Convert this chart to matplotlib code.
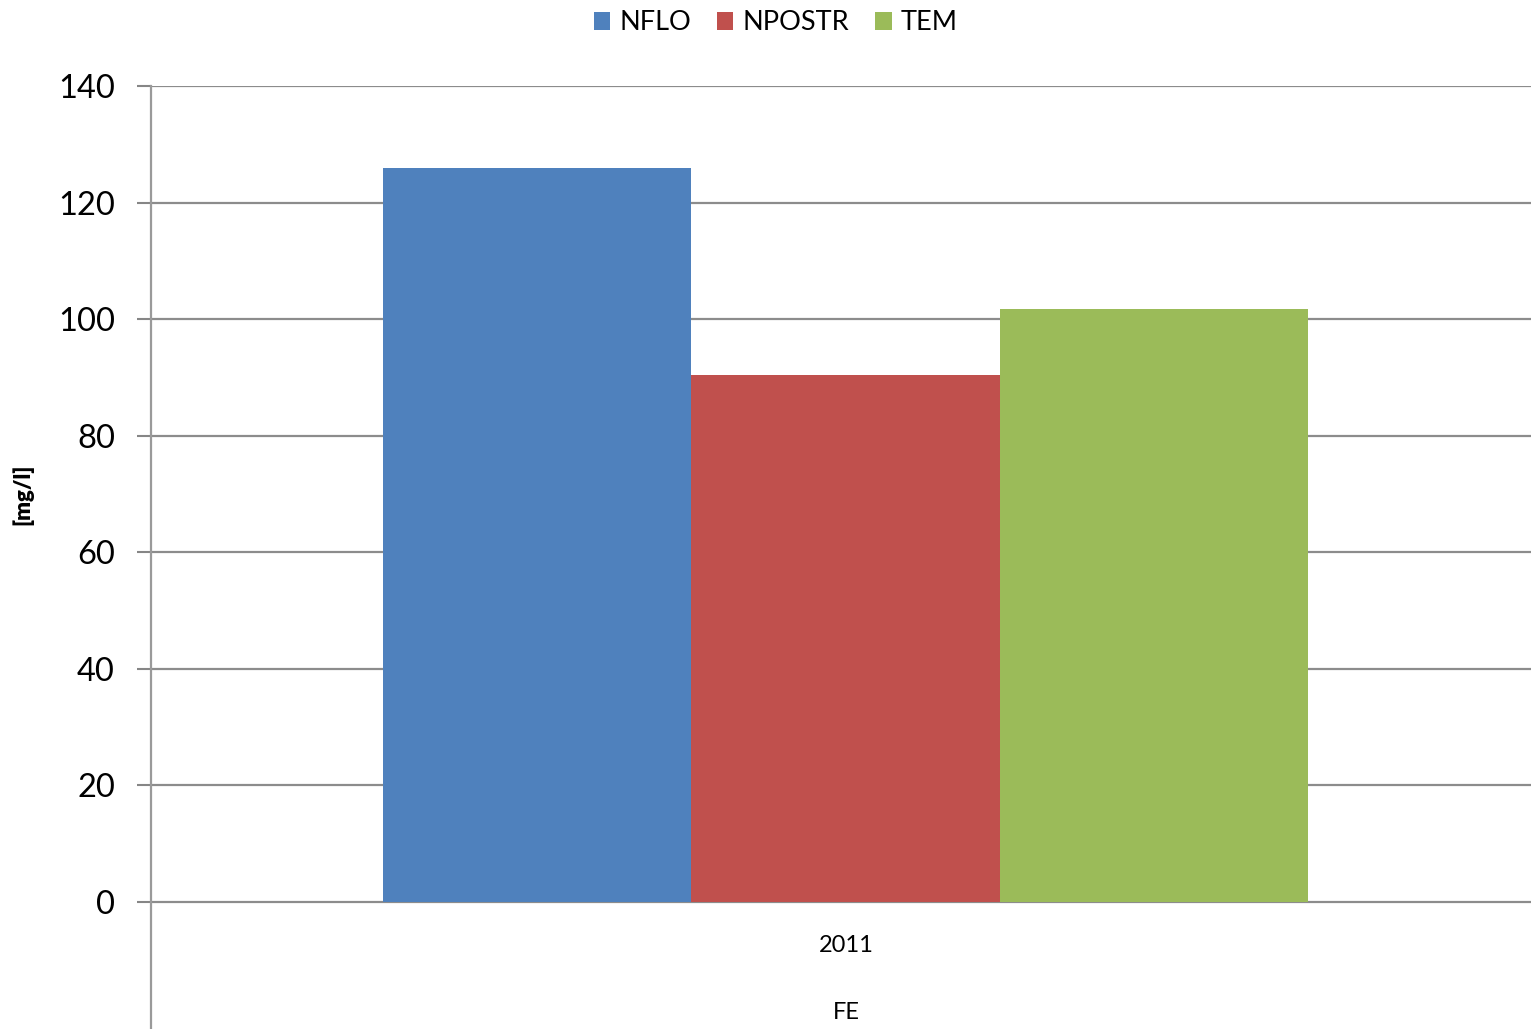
import matplotlib
matplotlib.use("Agg")
import matplotlib.pyplot as plt
from matplotlib.patches import Patch

series = ["NFLO", "NPOSTR", "TEM"]
values = [126.0, 90.4, 101.8]
colors = ["#4F81BD", "#C0504D", "#9BBB59"]
category = "2011"
group_label = "FE"
yticks = [0, 20, 40, 60, 80, 100, 120, 140]

plt.rcParams['font.family'] = ['Lato', 'DejaVu Sans']

W, H = 1531, 1029
fig = plt.figure(figsize=(W / 100, H / 100), dpi=100)
left, right, top, zero_y = 151, 1531, 86, 902
ax = fig.add_axes([left / W, 0, (right - left) / W, 1 - top / H])

ppu = (zero_y - top) / 140.0
ymin = -(H - zero_y) / ppu
ax.set_ylim(ymin, 140)
ax.set_xlim(-0.5, 0.5 - 9 / 1389)

bw = 308.5 / 1389
for i, (s, v, c) in enumerate(zip(series, values, colors)):
    ax.bar((i - 1) * bw, v, width=bw, color=c, zorder=3, label=s, linewidth=0)

ax.set_yticks(yticks)
ax.set_yticklabels([str(t) for t in yticks], fontsize=23.5)
ax.tick_params(axis='y', length=10, width=1.5, color='#868686', pad=16)
ax.set_xticks([])
for y in yticks:
    ax.axhline(y, color='#8C8C8C', lw=1.6, zorder=1)

for sp in ['top', 'right', 'bottom']:
    ax.spines[sp].set_visible(False)
ax.spines['left'].set_color('#9A9A9A')
ax.spines['left'].set_linewidth(1.6)

ax.text(0 + 1 / 1389, -7.5, category, ha='center', va='center', fontsize=17)
ax.text(0 + 1 / 1389, -18.9, group_label, ha='center', va='center', fontsize=17)

fig.text(23 / W, 1 - 494 / H, "[mg/l]", rotation=90, ha='center', va='center',
         fontsize=16, fontweight='heavy')

handles = [Patch(facecolor=c, label=s) for s, c in zip(series, colors)]
fig.legend(handles=handles, loc='center', bbox_to_anchor=(776 / W, 1 - 23 / H),
           ncol=3, frameon=False, fontsize=19.5, handlelength=0.6, handleheight=0.6,
           handletextpad=0.35, columnspacing=0.95)

fig.savefig("out.png", dpi=100)
